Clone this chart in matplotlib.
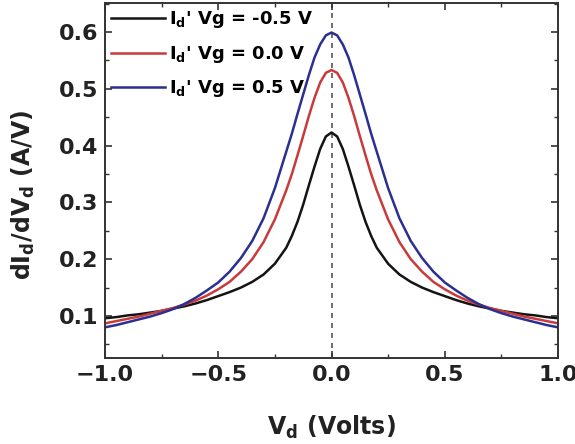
import matplotlib
matplotlib.use("Agg")
import matplotlib.pyplot as plt
from matplotlib.ticker import MultipleLocator

plt.rcParams['font.family'] = ['DejaVu Sans']
plt.rcParams['font.weight'] = 'bold'
plt.rcParams['axes.labelweight'] = 'bold'
plt.rcParams['mathtext.fontset'] = 'dejavusans'
plt.rcParams['mathtext.default'] = 'bf'

# drain voltage (V)
v_d = [-1.0, -0.95, -0.9, -0.85, -0.8, -0.75, -0.7, -0.65, -0.6, -0.55, -0.5,
       -0.45, -0.4, -0.35, -0.3, -0.25, -0.2, -0.175, -0.15, -0.125, -0.1,
       -0.075, -0.05, -0.025, 0.0, 0.025, 0.05, 0.075, 0.1, 0.125, 0.15,
       0.175, 0.2, 0.25, 0.3, 0.35, 0.4, 0.45, 0.5, 0.55, 0.6, 0.65, 0.7,
       0.75, 0.8, 0.85, 0.9, 0.95, 1.0]

# dId/dVd (A/V) for Vg = -0.5, 0.0, 0.5 V
g_neg05 = [0.096, 0.098, 0.101, 0.103, 0.106, 0.109, 0.113, 0.117, 0.122, 0.128,
           0.135, 0.142, 0.150, 0.160, 0.173, 0.192, 0.220, 0.241, 0.266, 0.296,
           0.330, 0.363, 0.394, 0.416, 0.423, 0.416, 0.394, 0.363, 0.330, 0.296,
           0.266, 0.241, 0.220, 0.192, 0.173, 0.160, 0.150, 0.142, 0.135, 0.128,
           0.122, 0.117, 0.113, 0.109, 0.106, 0.103, 0.101, 0.098, 0.096]
g_00 = [0.087, 0.091, 0.095, 0.099, 0.104, 0.109, 0.114, 0.120, 0.127, 0.136,
        0.147, 0.160, 0.178, 0.200, 0.230, 0.270, 0.321, 0.350, 0.383, 0.417,
        0.452, 0.484, 0.511, 0.528, 0.533, 0.528, 0.511, 0.484, 0.452, 0.417,
        0.383, 0.350, 0.321, 0.270, 0.230, 0.200, 0.178, 0.160, 0.147, 0.136,
        0.127, 0.120, 0.114, 0.109, 0.104, 0.099, 0.095, 0.091, 0.087]
g_05 = [0.080, 0.084, 0.089, 0.094, 0.099, 0.105, 0.112, 0.121, 0.132, 0.145,
        0.159, 0.178, 0.202, 0.232, 0.272, 0.325, 0.389, 0.421, 0.456, 0.490,
        0.524, 0.555, 0.578, 0.594, 0.599, 0.594, 0.578, 0.555, 0.524, 0.490,
        0.456, 0.421, 0.389, 0.325, 0.272, 0.232, 0.202, 0.178, 0.159, 0.145,
        0.132, 0.121, 0.112, 0.105, 0.099, 0.094, 0.089, 0.084, 0.080]

labels = ["I$_d$' Vg = -0.5 V", "I$_d$' Vg = 0.0 V", "I$_d$' Vg = 0.5 V"]
colors = ['#141414', '#c93a3a', '#2a2f90']

fig = plt.figure(figsize=(5.75, 4.44), dpi=100)
ax = fig.add_axes([105/575, 1-358/444, 453/575, 355/444])

for g, lab, c in zip([g_neg05, g_00, g_05], labels, colors):
    ax.plot(v_d, g, color=c, lw=1.8, label=lab, solid_joinstyle='round')

# dashed line at Vd = 0
ax.axvline(0, color='#555555', lw=1.2, ls=(0, (3, 3)), zorder=0)

ax.set_xlim(-1.0, 1.0)
ax.set_ylim(0.026, 0.651)
ax.xaxis.set_major_locator(MultipleLocator(0.5))
ax.xaxis.set_minor_locator(MultipleLocator(0.25))
ax.yaxis.set_major_locator(MultipleLocator(0.1))
ax.yaxis.set_minor_locator(MultipleLocator(0.05))
ax.tick_params(which='both', direction='in', top=True, right=True,
               colors='#333333', labelcolor='#222222')
ax.tick_params(which='major', length=5, width=1.2, labelsize=16, pad=5)
ax.tick_params(which='minor', length=3, width=1.0)
for s in ax.spines.values():
    s.set_linewidth(1.4)
    s.set_color('#333333')

ax.set_xlabel('V$_d$ (Volts)', fontsize=17, labelpad=21, color='#222222')
ax.set_ylabel('dI$_d$/dV$_d$ (A/V)', fontsize=17, color='#222222')
ax.yaxis.set_label_coords(-0.15, 0.46)

ax.legend(loc='upper left', bbox_to_anchor=(0, 1), borderaxespad=0.0,
          borderpad=0.35, frameon=False, handlelength=3.0, handletextpad=0.2,
          labelspacing=0.75, prop={'size': 13, 'weight': 'bold'})

fig.savefig('out.png', dpi=100)
